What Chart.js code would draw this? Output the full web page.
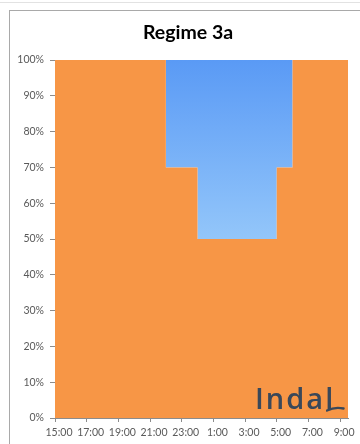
<!DOCTYPE html>
<html>
<head>
<meta charset="utf-8">
<script src="https://cdn.jsdelivr.net/npm/chart.js@4/dist/chart.umd.min.js"></script>
<style>
  html, body { margin: 0; padding: 0; background: #ffffff; }
  #wrap { position: relative; width: 360px; height: 444px; overflow: hidden; }
  #topline { position: absolute; left: 0; top: 2px; width: 360px; height: 1px; background: #e2e2e2; }
  #frame { position: absolute; left: 9px; top: 10px; width: 400px; height: 500px; border-left: 1px solid #a9a9a9; border-top: 1px solid #a9a9a9; }
  #title { position: absolute; left: 0; top: 22px; width: 376px; text-align: center; font-family: Lato, "DejaVu Sans", sans-serif; font-weight: bold; font-size: 19.5px; line-height: 19px; color: #000; }
  #chart { position: absolute; left: 0; top: 0; }
  #logo { position: absolute; left: 255px; top: 383px; font-family: "Open Sans", sans-serif; font-weight: 600; font-size: 29px; line-height: 30px; letter-spacing: 2px; color: #3a4859; }
  #swoosh { position: absolute; left: 326px; top: 398px; }
</style>
</head>
<body>
<div id="wrap">
  <div id="topline"></div>
  <div id="frame"></div>
  <canvas id="chart" width="360" height="444"></canvas>
  <div id="title">Regime 3a</div>
  <div id="logo">Indal</div>
  <svg id="swoosh" width="20" height="16" viewBox="0 0 20 16"><path d="M1 12.5 Q9 8.5 17.5 10.5" stroke="#3a4859" stroke-width="2.4" fill="none" stroke-linecap="round"/></svg>
</div>
<script>
// Hours since midnight of the first day (24 = 0:00, 33 = 9:00)
const hours = [15, 16, 17, 18, 19, 20, 21, 22, 23, 24, 25, 26, 27, 28, 29, 30, 31, 32, 33, 33.5];
// Share of the orange (base) series, in percent
const baseShare = [100, 100, 100, 100, 100, 100, 100, 70, 70, 50, 50, 50, 50, 50, 70, 100, 100, 100, 100, 100];
// Share of the blue (flexible) series, in percent
const flexShare = [0, 0, 0, 0, 0, 0, 0, 30, 30, 50, 50, 50, 50, 50, 30, 0, 0, 0, 0, 0];
// Tick positions and labels
const tickHours = [15, 17, 19, 21, 23, 25, 27, 29, 31, 33];
const tickLabels = ['15:00', '17:00', '19:00', '21:00', '23:00', '1:00', '3:00', '5:00', '7:00', '9:00'];
const yTicks = [0, 10, 20, 30, 40, 50, 60, 70, 80, 90, 100];

const axisColor = '#8c8c8c';
const labelColor = '#595959';
const tickFont = { family: 'Lato, "DejaVu Sans", sans-serif', size: 10.5 };

function blueGradient(context) {
  const chart = context.chart;
  const area = chart.chartArea;
  if (!area) return '#6fa9f7';
  const y = chart.scales.y;
  const g = chart.ctx.createLinearGradient(0, y.getPixelForValue(100), 0, y.getPixelForValue(50));
  g.addColorStop(0, '#5a9af5');
  g.addColorStop(1, '#93c6fa');
  return g;
}

new Chart(document.getElementById('chart'), {
  type: 'line',
  data: {
    datasets: [
      {
        label: 'Base',
        data: hours.map((h, i) => ({ x: h, y: baseShare[i] })),
        stepped: true,
        fill: 'origin',
        backgroundColor: '#f79646',
        borderWidth: 0,
        pointRadius: 0
      },
      {
        label: 'Flexible',
        data: hours.map((h, i) => ({ x: h, y: flexShare[i] })),
        stepped: true,
        fill: '-1',
        backgroundColor: blueGradient,
        borderWidth: 0,
        pointRadius: 0
      }
    ]
  },
  options: {
    responsive: false,
    animation: false,
    layout: { padding: { left: 10, top: 60, right: 12, bottom: 0 } },
    plugins: {
      legend: { display: false },
      title: { display: false },
      tooltip: { enabled: false }
    },
    scales: {
      x: {
        type: 'linear',
        min: hours[0],
        max: hours[hours.length - 1],
        afterBuildTicks: (scale) => { scale.ticks = tickHours.map(v => ({ value: v })); },
        afterFit: (scale) => { scale.height = 26; },
        ticks: {
          autoSkip: false,
          maxRotation: 0,
          minRotation: 0,
          padding: 4,
          labelOffset: 4,
          color: labelColor,
          font: tickFont,
          callback: (v, i) => tickLabels[i]
        },
        grid: { drawOnChartArea: false, drawTicks: true, tickLength: 4, color: axisColor },
        border: { display: true, color: axisColor }
      },
      y: {
        stacked: true,
        min: 0,
        max: 100,
        afterBuildTicks: (scale) => { scale.ticks = yTicks.map(v => ({ value: v })); },
        afterFit: (scale) => { scale.width = 45; },
        ticks: {
          padding: 6,
          color: labelColor,
          font: tickFont,
          callback: (v) => v + '%'
        },
        grid: { drawOnChartArea: false, drawTicks: true, tickLength: 5, color: axisColor },
        border: { display: true, color: axisColor }
      }
    }
  }
});
</script>
</body>
</html>
